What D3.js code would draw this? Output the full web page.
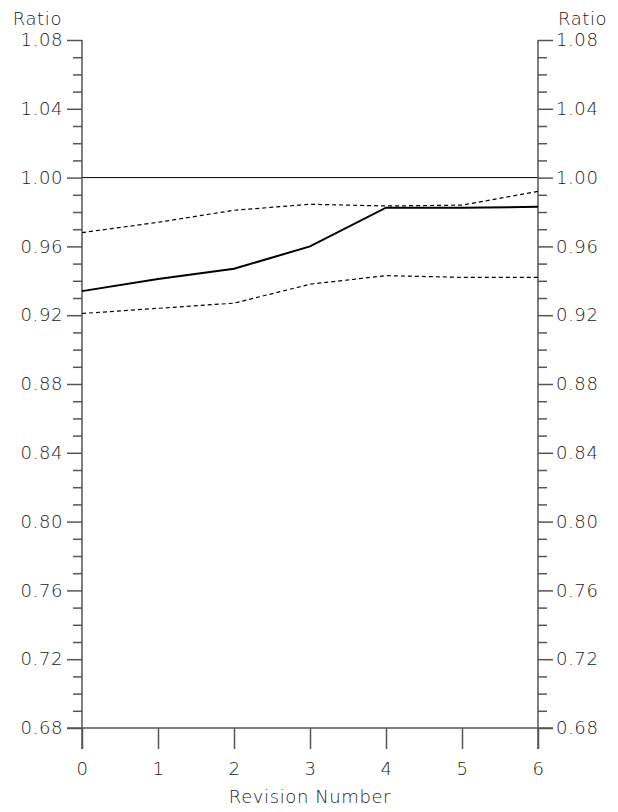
<!DOCTYPE html>
<html><head><meta charset="utf-8">
<script src="https://cdn.jsdelivr.net/npm/d3@7"></script>
<style>
body{margin:0;background:#fff;}
text{font-family:"DejaVu Sans",sans-serif;font-weight:200;fill:#222;letter-spacing:0.6px;}
</style></head>
<body><svg id="c" width="618" height="812"></svg>
<script>
const revisions = [0,1,2,3,4,5,6];
const ratioMain = [0.934,0.941,0.947,0.960,0.9825,0.9825,0.983];
const ratioUpper = [0.968,0.974,0.981,0.9845,0.9835,0.984,0.992];
const ratioLower = [0.921,0.924,0.927,0.938,0.943,0.942,0.942];
const yMajorTicks = [0.68,0.72,0.76,0.80,0.84,0.88,0.92,0.96,1.00,1.04,1.08];
const yMinorTicks = d3.range(68,109).map(v=>v/100).filter(v=>Math.round(v*100)%4!==0);
const referenceLine = 1.00;

const svg = d3.select("#c");
const L=82,R=538,T=40,B=728;
const FS=18;
const x = d3.scaleLinear().domain([0,6]).range([L,R]);
const y = d3.scaleLinear().domain([0.68,1.08]).range([B,T]);
const axisColor="#555";

svg.append("line").attr("x1",x(0)).attr("x2",x(6)).attr("y1",y(referenceLine)).attr("y2",y(referenceLine))
  .attr("stroke","#000").attr("stroke-width",1);

function styleAxis(g){
  g.select(".domain").remove();
  g.selectAll("line").attr("stroke",axisColor).attr("stroke-width",1.5);
  g.selectAll("text").attr("font-size",FS).attr("fill","#222");
}
const gl = svg.append("g").attr("transform",`translate(${L},0)`);
gl.call(d3.axisLeft(y).tickValues(yMajorTicks).tickSize(15).tickPadding(4).tickFormat(d3.format(".2f"))).call(styleAxis);
gl.append("g").call(d3.axisLeft(y).tickValues(yMinorTicks).tickSize(9).tickFormat("")).call(styleAxis);
gl.append("line").attr("x1",0).attr("x2",0).attr("y1",T).attr("y2",B+21).attr("stroke",axisColor).attr("stroke-width",1.5);

const gr = svg.append("g").attr("transform",`translate(${R},0)`);
gr.call(d3.axisRight(y).tickValues(yMajorTicks).tickSize(15).tickPadding(3).tickFormat(d3.format(".2f"))).call(styleAxis);
gr.append("g").call(d3.axisRight(y).tickValues(yMinorTicks).tickSize(9).tickFormat("")).call(styleAxis);
gr.append("line").attr("x1",0).attr("x2",0).attr("y1",T).attr("y2",B+21).attr("stroke",axisColor).attr("stroke-width",1.5);

const gb = svg.append("g").attr("transform",`translate(0,${B})`);
gb.call(d3.axisBottom(x).tickValues(revisions).tickSize(21).tickPadding(13).tickFormat(d3.format("d"))).call(styleAxis);
gb.append("line").attr("x1",L-15).attr("x2",R+15).attr("y1",0).attr("y2",0).attr("stroke",axisColor).attr("stroke-width",1.5);

svg.append("text").attr("x",62).attr("y",25).attr("text-anchor","end").attr("font-size",FS).text("Ratio");
svg.append("text").attr("x",558).attr("y",25).attr("text-anchor","start").attr("font-size",FS).text("Ratio");
svg.append("text").attr("x",x(3)).attr("y",803).attr("text-anchor","middle").attr("font-size",FS).text("Revision Number");

const line = d3.line().x((d,i)=>x(revisions[i])).y(d=>y(d));
svg.append("path").attr("d",line(ratioUpper)).attr("fill","none").attr("stroke","#000").attr("stroke-width",1.2).attr("stroke-dasharray","4,3");
svg.append("path").attr("d",line(ratioLower)).attr("fill","none").attr("stroke","#000").attr("stroke-width",1.2).attr("stroke-dasharray","4,3");
svg.append("path").attr("d",line(ratioMain)).attr("fill","none").attr("stroke","#000").attr("stroke-width",2);
</script></body></html>
